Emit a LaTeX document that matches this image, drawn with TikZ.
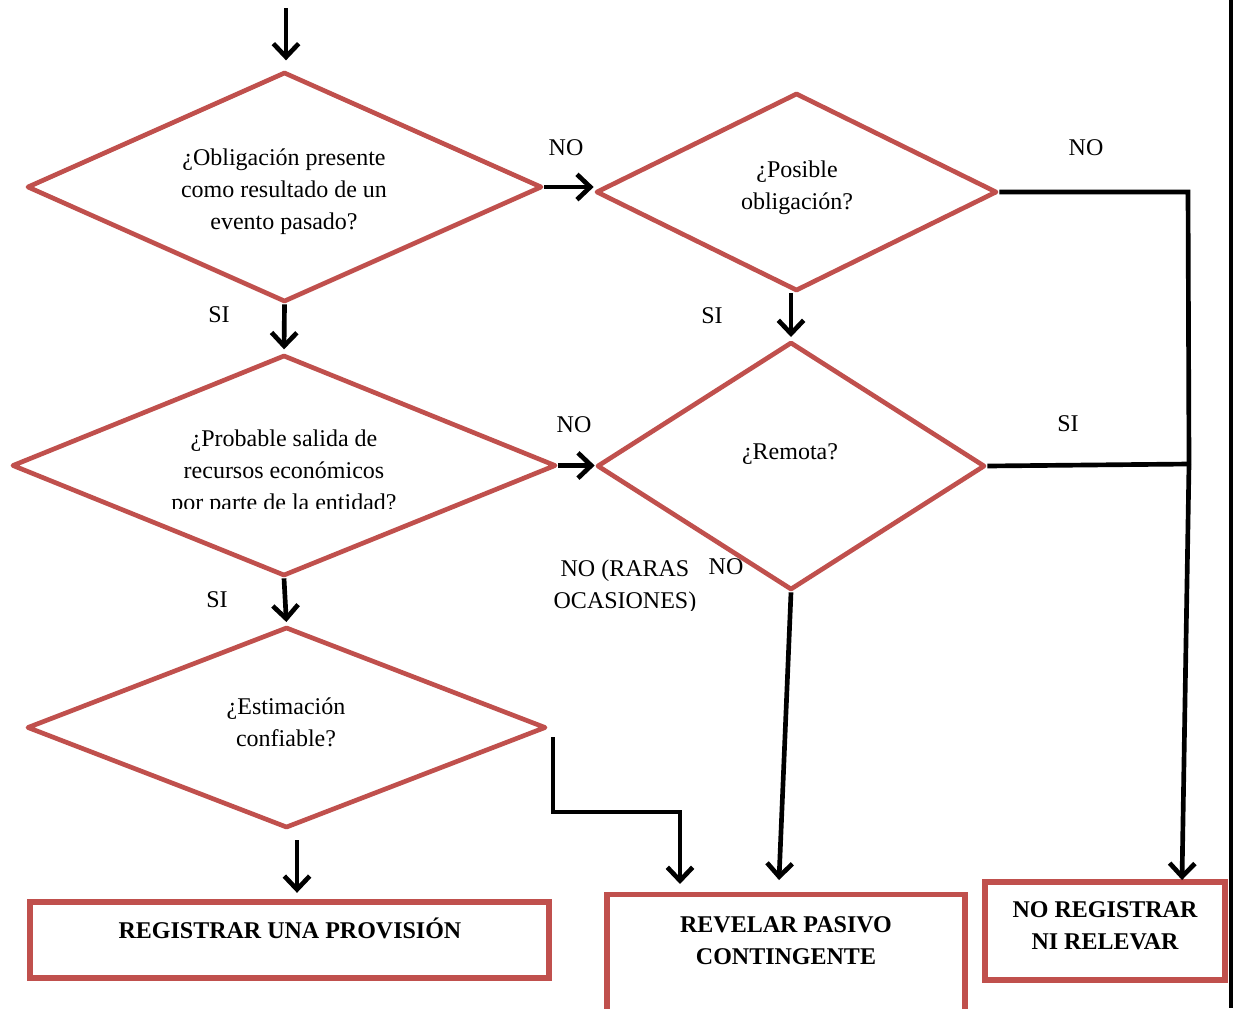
\documentclass[tikz,border=0pt]{standalone}
\usepackage{fontspec}
\setmainfont{Liberation Serif}
\usetikzlibrary{shapes.geometric,arrows.meta}
\definecolor{boxred}{HTML}{C0504D}

\tikzset{
  decision/.style={diamond, draw=boxred, line width=3.5pt, line join=round, inner sep=0pt},
  outcome/.style={rectangle, draw=boxred, line width=3.8pt, inner sep=0pt},
  dims/.style 2 args={minimum width=#1*0.75pt, minimum height=#2*0.75pt},
  qtext/.style={align=center},
  btext/.style={align=center, font=\fontsize{18}{24}\selectfont\bfseries},
  flow/.style={line width=3.5pt, -{Straight Barb[length=10pt,width=19pt]}},
  link/.style={line width=3.5pt},
}

\begin{document}
\begin{tikzpicture}[x=0.75pt, y=-0.75pt, font=\fontsize{18}{24}\selectfont]
  \useasboundingbox (0,0) rectangle (1235,1008);
  % questions
  \node[decision, dims={515}{230}] (d1) at (284.5,187) {};
  \node[decision, dims={401}{198}] (d2) at (796.5,192) {};
  \node[decision, dims={544}{221}] (d3) at (284,465.5) {};
  \node[decision, dims={388}{248}] (d4) at (791,466) {};
  \node[decision, dims={519}{201}] (d5) at (286.5,727.5) {};
  \node[qtext] (q1) at (284,192) {¿Obligación presente\\como resultado de un\\evento pasado?};
  \node[qtext] (q2) at (797,188) {¿Posible\\obligación?};
  \begin{scope}
    \clip (0,400) rectangle (600,508);
    \node[qtext] (q3) at (284,473) {¿Probable salida de\\recursos económicos\\por parte de la entidad?};
  \end{scope}
  \node[qtext] (q4) at (790,454) {¿Remota?};
  \node[qtext] (q5) at (286,722) {¿Estimación\\confiable?};
  % results
  \node[outcome, dims={519}{76}] (b1) at (289.5,940) {};
  \node[outcome, dims={358}{135}] (b2) at (786,962) {};
  \node[outcome, dims={240}{98}] (b3) at (1105,931) {};
  \node[btext] (b1t) at (290,928) {REGISTRAR UNA PROVISIÓN};
  \node[btext] (b2t) at (786,941) {REVELAR PASIVO\\CONTINGENTE};
  \node[btext] (b3t) at (1105,926) {NO REGISTRAR\\NI RELEVAR};
  % answers
  \node (no1) at (566,148) {NO};
  \node (no2) at (1086,148) {NO};
  \node (si1) at (219,315) {SI};
  \node (si2) at (712,316) {SI};
  \node (no3) at (574,425) {NO};
  \node (si3) at (1068,424) {SI};
  \node (si4) at (217,600) {SI};
  \node (no4) at (726,567) {NO};
  \begin{scope}
    \clip (540,540) rectangle (720,610);
    \node[qtext] (raras) at (625,587) {NO (RARAS\\OCASIONES)};
  \end{scope}
  % connectors
  \coordinate (start) at (286,8);
  \coordinate (e0) at (297,840);
  \coordinate (e1) at (553,737);
  \coordinate (e2) at (680,812);
  \coordinate (rv) at (779,880);
  \coordinate (nr1) at (1188,190);
  \coordinate (nr2) at (1189,464);
  \coordinate (nr3) at (1182,880);
  \draw[flow, shorten >=7pt] (start) -- (start |- d1.north);
  \draw[flow, shorten >=2.5pt] (d1.south) -- (d3.north);
  \draw[flow, shorten >=2pt] (d3.south) -- (d5.north);
  \draw[flow, shorten >=5pt] (e0) -- (e0 |- b1.north);
  \draw[flow] (d1.east) -- (d1.east -| d2.west);
  \draw[flow] (d3.east) -- (d3.east -| d4.west);
  \draw[flow, shorten >=2pt] (d4.north |- d2.south) -- (d4.north);
  \draw[link] (d2.east) -- (d2.east -| nr1) -- (nr2);
  \draw[link] (d4.east) -- (nr2);
  \draw[flow] (nr2) -- (nr3);
  \draw[flow] (d4.south) -- (rv);
  \draw[flow, shorten >=6pt] (e1) |- (e2) -- (e2 |- b2.north);
  % page edge
  \draw[line width=3pt] (1231,0) -- (1231,1008);
\end{tikzpicture}
\end{document}
